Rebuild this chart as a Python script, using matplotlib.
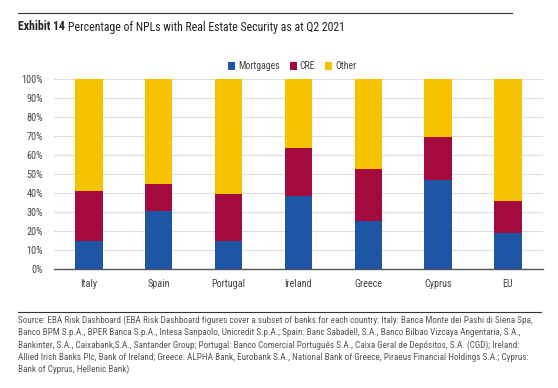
import matplotlib.pyplot as plt
import numpy as np
from matplotlib.lines import Line2D

plt.rcParams['font.family'] = ['Roboto Condensed', 'DejaVu Sans']

countries = ["Italy", "Spain", "Portugal", "Ireland", "Greece", "Cyprus", "EU"]
mortgages = [14.6, 30.6, 14.8, 38.4, 25.5, 46.8, 19.0]
cre = [26.4, 13.9, 24.6, 25.3, 27.3, 22.9, 16.6]
other = [100 - m - c for m, c in zip(mortgages, cre)]
yticks = np.arange(0, 101, 10)

c_mort = "#1F55A5"
c_cre = "#A50A3C"
c_oth = "#F5C300"

fig = plt.figure(figsize=(5.58, 3.88), dpi=100)
ax = fig.add_axes([0.0968, 0.3067, 0.876, 0.4897])

x = np.arange(len(countries))
w = 0.39
ax.bar(x, mortgages, w, color=c_mort, label="Mortgages", zorder=3)
ax.bar(x, cre, w, bottom=mortgages, color=c_cre, label="CRE", zorder=3)
ax.bar(x, other, w, bottom=np.add(mortgages, cre), color=c_oth, label="Other", zorder=3)

ax.set_xlim(-0.5, len(countries) - 0.5)
ax.set_ylim(0, 100)
ax.set_yticks(yticks)
ax.set_yticklabels([f"{v}%" for v in yticks])
ax.set_xticks(x)
ax.set_xticklabels(countries)
ax.yaxis.grid(True, color="#DDDDDD", linewidth=0.8, zorder=0)
for s in ["top", "right", "left"]:
    ax.spines[s].set_visible(False)
ax.spines["bottom"].set_color("#555555")
ax.spines["bottom"].set_linewidth(1.0)
ax.tick_params(axis="both", length=0, labelsize=7.3, colors="#444444")
ax.tick_params(axis="x", pad=7)
ax.tick_params(axis="y", pad=8)

ax.legend(loc="lower left", bbox_to_anchor=((228 - 54) / 489, 1.04), ncol=3, frameon=False,
          fontsize=7, handlelength=0.75, handleheight=0.75, handletextpad=0.3,
          columnspacing=1.0, borderaxespad=0, borderpad=0, labelcolor="#444444")

fig.add_artist(Line2D([18 / 558, 512 / 558], [1 - 13 / 388, 1 - 13 / 388], color="#333333", linewidth=0.8))
t1 = fig.text(18 / 558, 1 - 27 / 388, "Exhibit 14", fontsize=8.5, fontweight="bold", va="center", color="#222222")
fig.canvas.draw()
bb = t1.get_window_extent()
fig.text((bb.x1 + 3) / 558, 1 - 27 / 388, "Percentage of NPLs with Real Estate Security as at Q2 2021",
         fontsize=8.5, va="center", color="#222222")

fig.add_artist(Line2D([18 / 558, 541 / 558], [1 - 312 / 388, 1 - 312 / 388], color="#333333", linewidth=0.8))
footer = ("Source: EBA Risk Dashboard (EBA Risk Dashboard figures cover a subset of banks for each country: Italy: Banca Monte dei Pashi di Siena Spa,\n"
          "Banco BPM S.p.A., BPER Banca S.p.A., Intesa Sanpaolo, Unicredit S.p.A.; Spain: Banc Sabadell, S.A., Banco Bilbao Vizcaya Angentaria, S.A.,\n"
          "Bankinter, S.A., Caixabank,S.A., Santander Group; Portugal: Banco Comercial Português S.A., Caixa Geral de Depósitos, S.A. (CGD); Ireland:\n"
          "Allied Irish Banks Plc, Bank of Ireland; Greece: ALPHA Bank, Eurobank S.A., National Bank of Greece, Piraeus Financial Holdings S.A.; Cyprus:\n"
          "Bank of Cyprus, Hellenic Bank)")
fig.text(18 / 558, 1 - 315.5 / 388, footer, fontsize=6.6, va="top", color="#555555", linespacing=1.42)

fig.savefig("out.png", dpi=100)
